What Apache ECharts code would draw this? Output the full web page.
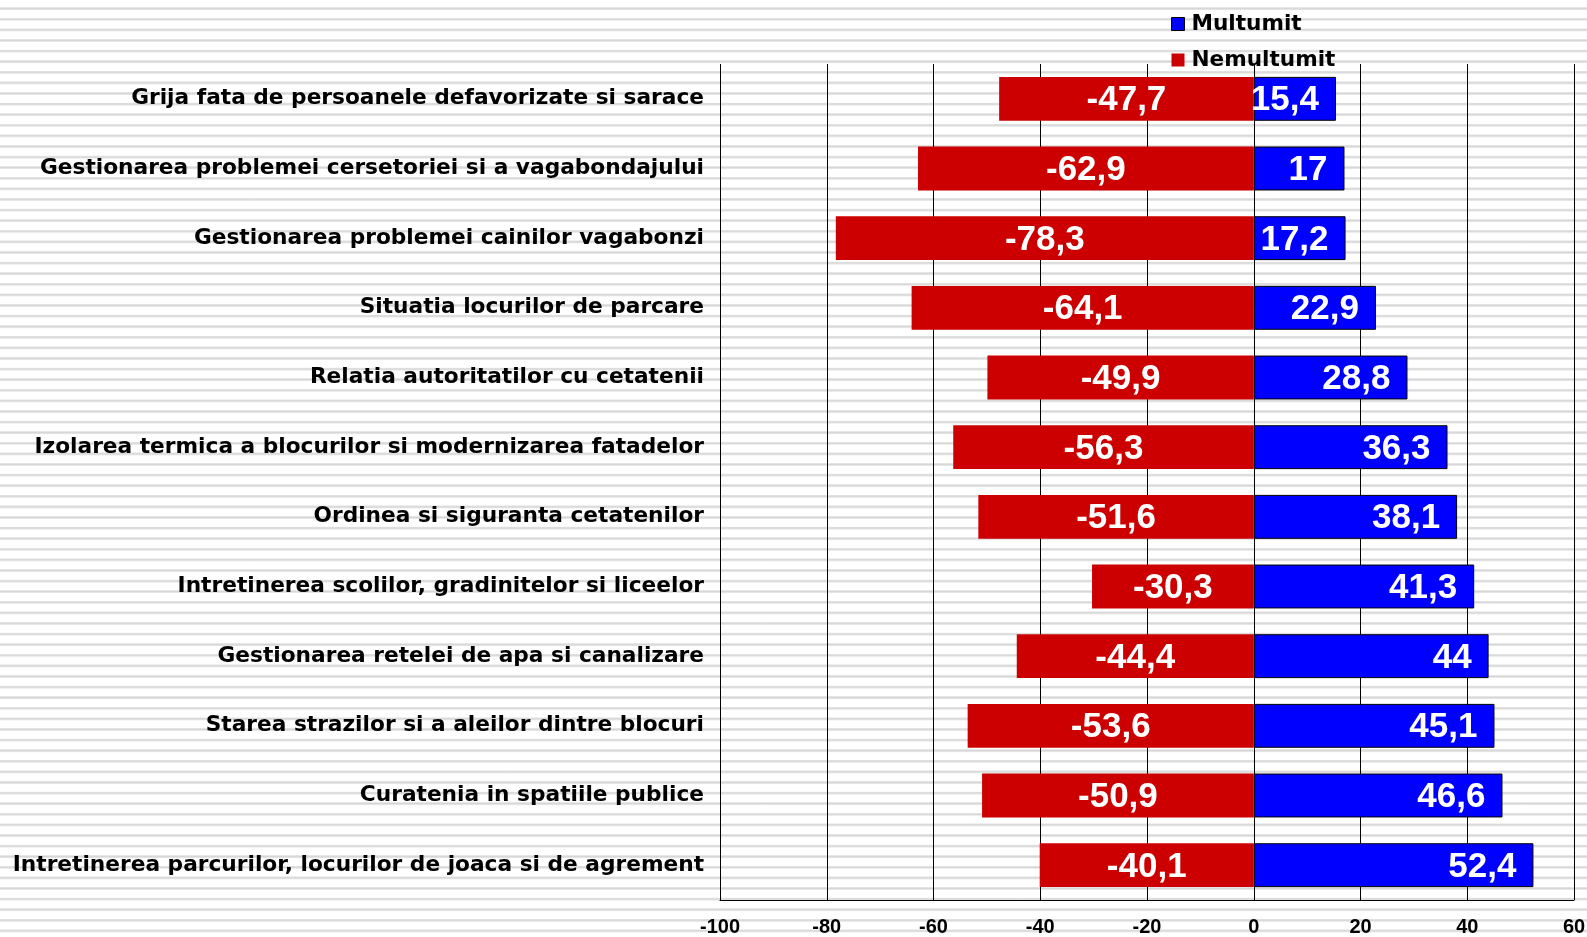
<!DOCTYPE html>
<html>
<head>
<meta charset="utf-8">
<script src="https://cdn.jsdelivr.net/npm/echarts@6/dist/echarts.min.js"></script>
<style>
  html, body { margin: 0; padding: 0; }
  body {
    width: 1587px; height: 937px;
    background: repeating-linear-gradient(to bottom,
      #ffffff 0px, #ffffff 7px, #e6e6e6 7.5px, #d6d6d6 8.6px, #e6e6e6 9.7px, #ffffff 10.6px);
  }
  #chart { width: 1587px; height: 937px; }
</style>
</head>
<body>
<div id="chart"></div>
<script>
// categories top -> bottom
let categories = [
    'Grija fata de persoanele defavorizate si sarace',
    'Gestionarea problemei cersetoriei si a vagabondajului',
    'Gestionarea problemei cainilor vagabonzi',
    'Situatia locurilor de parcare',
    'Relatia autoritatilor cu cetatenii',
    'Izolarea termica a blocurilor si modernizarea fatadelor',
    'Ordinea si siguranta cetatenilor',
    'Intretinerea scolilor, gradinitelor si liceelor',
    'Gestionarea retelei de apa si canalizare',
    'Starea strazilor si a aleilor dintre blocuri',
    'Curatenia in spatiile publice',
    'Intretinerea parcurilor, locurilor de joaca si de agrement'
];
let multumit = [15.4, 17, 17.2, 22.9, 28.8, 36.3, 38.1, 41.3, 44, 45.1, 46.6, 52.4];
let nemultumit = [-47.7, -62.9, -78.3, -64.1, -49.9, -56.3, -51.6, -30.3, -44.4, -53.6, -50.9, -40.1];

let chart = echarts.init(document.getElementById('chart'));

// valorile cu virgula zecimala
function fmt(p) {
    return String(p.value).replace('.', ',');
}

let labelFont = {
    color: '#fff',
    fontWeight: 'bold',
    fontSize: 35,
    offset: [0, 2],
    fontFamily: '"Liberation Sans", Arial, sans-serif'
};
let wideFont = '"DejaVu Sans", Verdana, sans-serif';

let option = {
    backgroundColor: 'transparent',
    animation: false,
    legend: {
        orient: 'vertical',
        left: 1166,
        top: 8,
        icon: 'rect',
        itemWidth: 13,
        itemHeight: 13,
        itemGap: 14,
        textStyle: {
            fontSize: 21.6,
            fontWeight: 'bold',
            color: '#000',
            fontFamily: wideFont,
            padding: [0, 0, 0, 2]
        },
        data: [
            {name: 'Multumit', itemStyle: {color: '#0000ff', borderColor: '#000', borderWidth: 1}},
            {name: 'Nemultumit', itemStyle: {color: '#cc0000', borderWidth: 0}}
        ]
    },
    grid: {
        left: 720,
        right: 13,
        top: 64,
        bottom: 37,
        containLabel: false,
        outerBoundsMode: 'none'
    },
    xAxis: {
        type: 'value',
        min: -100,
        max: 60,
        interval: 20,
        axisLine: {show: true, lineStyle: {color: '#000', width: 1}},
        axisTick: {show: false},
        splitLine: {show: true, lineStyle: {color: '#000', width: 1}},
        axisLabel: {
            color: '#000',
            fontWeight: 'bold',
            fontSize: 20,
            margin: 17,
            fontFamily: '"Liberation Sans", Arial, sans-serif'
        }
    },
    yAxis: {
        type: 'category',
        inverse: true,
        data: categories,
        axisLine: {show: false},
        axisTick: {show: false},
        axisLabel: {
            color: '#000',
            fontWeight: 'bold',
            fontSize: 21.7,
            margin: 16,
            fontFamily: wideFont
        }
    },
    series: [
        {
            name: 'Nemultumit',
            type: 'bar',
            stack: 'total',
            barWidth: '63%',
            data: nemultumit,
            itemStyle: {color: '#cc0000'},
            label: Object.assign({show: true, position: 'inside', formatter: fmt}, labelFont)
        },
        {
            name: 'Multumit',
            type: 'bar',
            stack: 'total',
            barWidth: '63%',
            data: multumit,
            itemStyle: {color: '#0000ff', borderColor: '#000', borderWidth: 1},
            label: Object.assign({show: true, position: 'insideRight', distance: 17, formatter: fmt}, labelFont)
        }
    ]
};
chart.setOption(option);
</script>
</body>
</html>
